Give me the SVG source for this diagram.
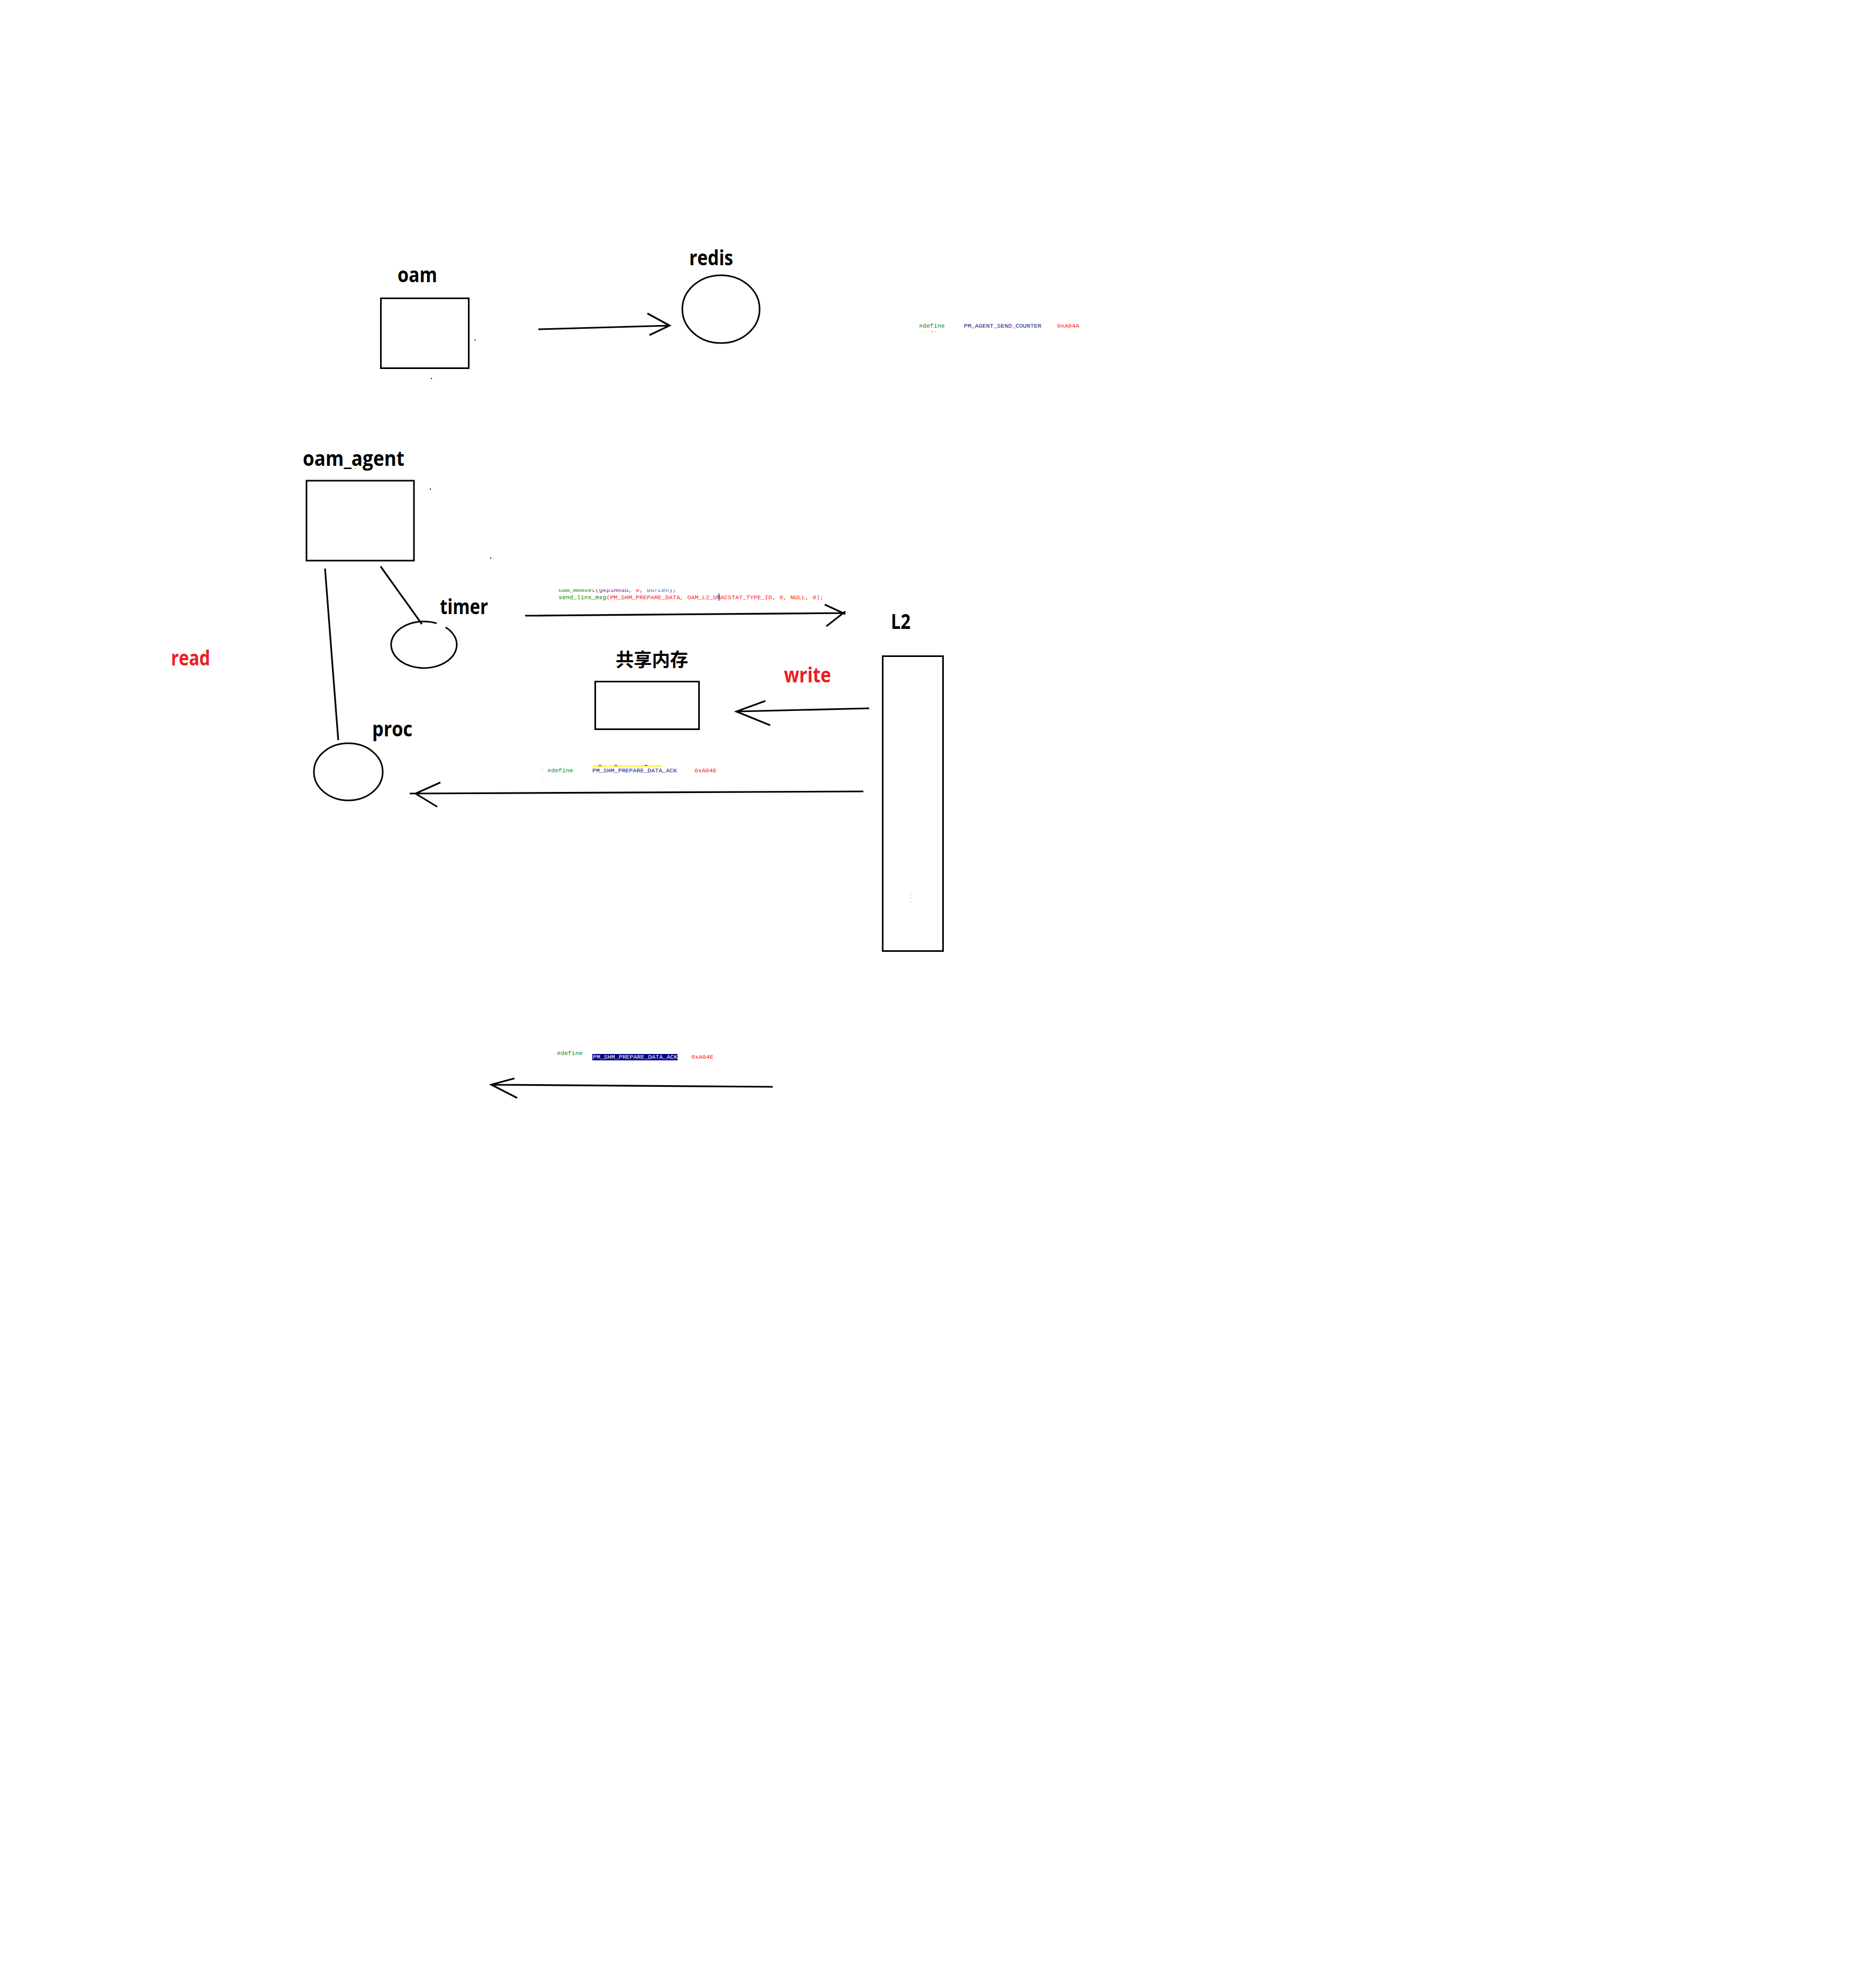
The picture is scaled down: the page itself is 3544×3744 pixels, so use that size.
<svg xmlns="http://www.w3.org/2000/svg" width="3544" height="3744" viewBox="0 0 3544 3744">
<style>
.lbl{font-family:"Open Sans","Liberation Sans","Noto Sans CJK SC",sans-serif;font-weight:bold;font-size:40px;fill:#000}
.red{fill:#ED1C24}
.cjk{font-family:"Noto Sans CJK SC","Open Sans",sans-serif;font-weight:bold;font-size:35px;fill:#000}
.shape{fill:none;stroke:#000;stroke-width:3}
.conn{fill:none;stroke:#000;stroke-width:3.2;stroke-linecap:butt}
.code{font-family:"Liberation Mono","DejaVu Sans Mono",monospace;font-size:11.6px}
.g{fill:#0A8A0A}.n{fill:#1A1A8C}.r{fill:#FF1A1A}.p{fill:#8B1A8B}.b{fill:#3060C0}.w{fill:#FFFFFF}
</style>
<defs>
<clipPath id="clipTop"><rect x="1700" y="612" width="400" height="15"/></clipPath>
<clipPath id="clipCode"><rect x="1040" y="1113" width="600" height="30"/></clipPath>
</defs>
<rect x="0" y="0" width="3544" height="3744" fill="#FFFFFF"/>

<g id="oam">
<text class="lbl" x="751" y="533" textLength="75" lengthAdjust="spacingAndGlyphs">oam</text>
<rect class="shape" x="719.5" y="563.5" width="166" height="132"/>
</g>

<g id="redis">
<text class="lbl" x="1302" y="501" textLength="83" lengthAdjust="spacingAndGlyphs">redis</text>
<ellipse class="shape" cx="1362" cy="584" rx="73" ry="64"/>
</g>

<g id="oam_agent">
<text class="lbl" x="572" y="880" textLength="192" lengthAdjust="spacingAndGlyphs">oam_agent</text>
<rect class="shape" x="579" y="908" width="203" height="151"/>
</g>

<g id="timer">
<text class="lbl" x="831" y="1160" textLength="91" lengthAdjust="spacingAndGlyphs">timer</text>
<path class="shape" d="M 842 1185 A 62 44 0 1 1 825 1177.4"/>
</g>

<g id="proc">
<text class="lbl" x="703" y="1391" textLength="76" lengthAdjust="spacingAndGlyphs">proc</text>
<ellipse class="shape" cx="658" cy="1458" rx="65" ry="54"/>
</g>

<g id="read">
<text class="lbl red" x="323" y="1257" textLength="74" lengthAdjust="spacingAndGlyphs">read</text>
</g>

<g id="shm">
<text class="cjk" x="1163" y="1259" textLength="137" lengthAdjust="spacingAndGlyphs">共享内存</text>
<rect class="shape" x="1124.5" y="1287.5" width="196" height="90"/>
</g>

<g id="write">
<text class="lbl red" x="1481" y="1289" textLength="89" lengthAdjust="spacingAndGlyphs">write</text>
</g>

<g id="L2">
<text class="lbl" x="1683" y="1188" textLength="37" lengthAdjust="spacingAndGlyphs">L2</text>
<rect class="shape" x="1667.5" y="1239.5" width="114" height="557"/>
<rect x="1720" y="1689" width="1.5" height="2" fill="#9ECFE6"/>
<rect x="1720" y="1696" width="1.5" height="2" fill="#9ECFE6"/>
<rect x="1720" y="1703" width="1.5" height="2" fill="#9ECFE6"/>
</g>

<g id="connectors">
<path class="conn" d="M 1017 622 L 1265 615 M 1223 592 L 1265 615 L 1227 633"/>
<path class="conn" d="M 614 1074 L 639 1398"/>
<path class="conn" d="M 719 1070 L 797 1179"/>
<path class="conn" d="M 992 1163 L 1594 1158 M 1558 1142 L 1597 1160 M 1597 1155 L 1561 1183"/>
<path class="conn" d="M 1642 1338 L 1391 1344 M 1446 1324 L 1391 1344 L 1455 1370"/>
<path class="conn" d="M 1631 1495 L 774 1499 M 832 1478 L 785 1499 L 826 1524"/>
<path class="conn" d="M 1460 2053 L 928 2049 M 972 2037 L 928 2049 L 977 2074"/>
</g>

<g id="code-top">
<text class="code" y="619"><tspan class="g" x="1736">#define</tspan><tspan class="n" x="1821">PM_AGENT_SEND_COUNTER</tspan><tspan class="r" x="1997">0xA04A</tspan></text>
<g clip-path="url(#clipTop)">
<text class="code" y="634"><tspan class="g" x="1736">#define</tspan><tspan class="n" x="1821">PM_SHM_READY</tspan><tspan class="r" x="1997">0xA04B</tspan></text>
</g>
</g>

<g id="code-timer">
<g clip-path="url(#clipCode)">
<text class="code" y="1118" x="1055"><tspan class="g">oam_memset</tspan><tspan class="p">(gkpiHead, </tspan><tspan class="r">0</tspan><tspan class="p">, </tspan><tspan class="b">bufLen</tspan><tspan class="p">);</tspan></text>
</g>
<text class="code" y="1132" x="1055"><tspan class="g">send_linx_msg</tspan><tspan class="r">(PM_SHM_PREPARE_DATA, OAM_L2_UMACSTAT_TYPE_ID, 0, NULL, 0);</tspan></text>
<rect x="1357.5" y="1121" width="1.5" height="14" fill="#1A3A6A"/>
</g>

<g id="code-mid">
<rect x="1119" y="1446" width="132" height="2" fill="#FFEE00"/>
<rect x="1131" y="1445" width="5" height="1.2" fill="#222"/>
<rect x="1161" y="1445" width="5" height="1.2" fill="#222"/>
<rect x="1218" y="1445" width="5" height="1.2" fill="#222"/>
<rect x="1023" y="1452" width="1.5" height="2" fill="#9ECFE6"/>
<rect x="1023" y="1469" width="1.5" height="2" fill="#9ECFE6"/>
<text class="code" y="1459"><tspan class="g" x="1034">#define</tspan><tspan class="n" x="1119">PM_SHM_PREPARE_DATA_ACK</tspan><tspan class="r" x="1312">0xA04E</tspan></text>
</g>

<g id="code-bottom">
<rect x="1119" y="1991" width="161" height="12" fill="#000080"/>
<text class="code" y="1993"><tspan class="g" x="1052">#define</tspan></text>
<text class="code" y="2000"><tspan class="w" x="1120">PM_SHM_PREPARE_DATA_ACK</tspan><tspan class="r" x="1306">0xA04E</tspan></text>
</g>

<g id="specks">
<rect x="897" y="640" width="1" height="4" fill="#000"/>
<rect x="814" y="714" width="2" height="2" fill="#000"/>
<rect x="812" y="923" width="2" height="2" fill="#000"/>
<rect x="926" y="1053" width="2" height="2" fill="#000"/>
</g>
</svg>
